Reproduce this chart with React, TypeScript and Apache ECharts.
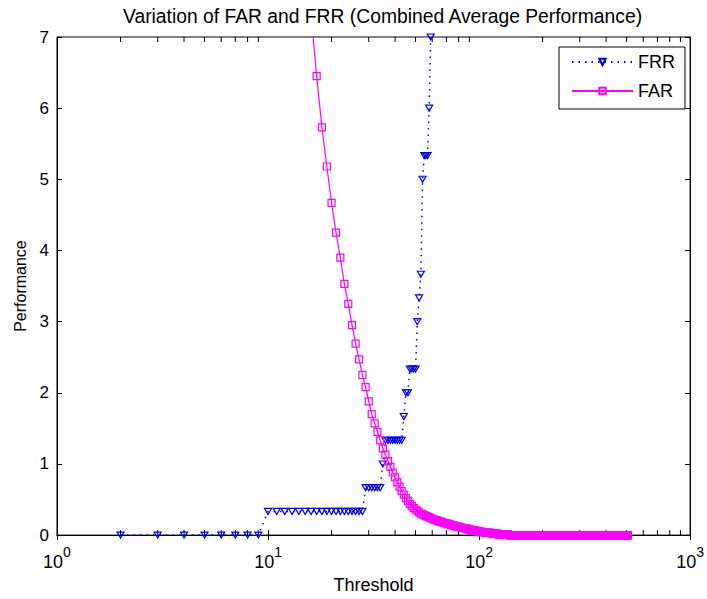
import React, { useEffect, useRef } from "react";
import * as echarts from "echarts";

const TITLE = "Variation of FAR and FRR (Combined Average Performance)";
const X_NAME = "Threshold";
const Y_NAME = "Performance";
const X_MIN = 1;
const X_MAX = 1000;
const Y_MIN = 0;
const Y_MAX = 7;
const Y_INTERVAL = 1;
const X_MINOR_TICKS = [2, 3, 4, 5, 6, 7, 8, 9, 20, 30, 40, 50, 60, 70, 80, 90, 200, 300, 400, 500, 600, 700, 800, 900];

// FRR: one value per integer threshold, starting at FRR_START
const FRR_START = 2;
const FRR_VALUES = [
  0, 0, 0, 0, 0, 0, 0, 0,
  0.3333, 0.3333, 0.3333, 0.3333, 0.3333, 0.3333, 0.3333, 0.3333, 0.3333, 0.3333,
  0.3333, 0.3333, 0.3333, 0.3333, 0.3333, 0.3333, 0.3333, 0.3333, 0.3333,
  0.6667, 0.6667, 0.6667, 0.6667, 0.6667, 0.6667,
  1.0,
  1.3333, 1.3333, 1.3333, 1.3333, 1.3333, 1.3333, 1.3333, 1.3333,
  1.6667,
  2.0, 2.0,
  2.3333, 2.3333, 2.3333, 2.3333,
  3.0, 3.3333, 3.6667, 5.0,
  5.3333, 5.3333, 5.3333,
  6.0, 7.0,
];

// FAR: one value per integer threshold, starting at FAR_START
const FAR_START = 16;
const FAR_VALUES = [
  7.3, 6.45, 5.73, 5.18, 4.67, 4.25, 3.9, 3.53, 3.25, 2.95,
  2.69, 2.47, 2.25, 2.08, 1.88, 1.7, 1.57, 1.45, 1.33, 1.22,
  1.13, 1.04, 0.96, 0.88, 0.81, 0.74, 0.68, 0.62, 0.57, 0.52,
  0.48, 0.44, 0.41, 0.38, 0.36, 0.34, 0.32, 0.3, 0.29, 0.28,
  0.27, 0.26, 0.25, 0.24, 0.23, 0.22, 0.21, 0.21, 0.2, 0.19,
  0.19, 0.18, 0.17, 0.17, 0.16, 0.16, 0.15, 0.15, 0.14, 0.14,
  0.13, 0.13, 0.12, 0.12, 0.12, 0.11, 0.11, 0.1, 0.1, 0.1,
  0.09, 0.09, 0.09, 0.08, 0.08, 0.08, 0.07, 0.07, 0.07, 0.06,
  0.06, 0.06, 0.06, 0.05, 0.05, 0.05, 0.05, 0.04, 0.04, 0.04,
  0.04, 0.04, 0.03, 0.03, 0.03, 0.03, 0.03, 0.03, 0.03, 0.02,
  0.02, 0.02, 0.02, 0.02, 0.02, 0.02, 0.02, 0.01, 0.01, 0.01,
  0.01, 0.01, 0.01, 0.01, 0.01, 0.01, 0.01, 0.01, 0.01, 0.01, 0.01, 0.01,
  0, 0, 0, 0, 0, 0, 0, 0, 0, 0, 0, 0, 0, 0, 0, 0, 0, 0, 0, 0,
  0, 0, 0, 0, 0, 0, 0, 0, 0, 0, 0, 0, 0, 0, 0, 0, 0, 0, 0, 0,
  0, 0, 0, 0, 0, 0, 0, 0, 0, 0, 0, 0, 0, 0, 0, 0, 0, 0, 0, 0,
  0, 0, 0, 0, 0, 0, 0, 0, 0, 0, 0, 0, 0, 0, 0, 0, 0, 0, 0, 0,
  0, 0, 0, 0, 0, 0, 0, 0, 0, 0, 0, 0, 0, 0, 0, 0, 0, 0, 0, 0,
  0, 0, 0, 0, 0, 0, 0, 0, 0, 0, 0, 0, 0, 0, 0, 0, 0, 0, 0, 0,
  0, 0, 0, 0, 0, 0, 0, 0, 0, 0, 0, 0, 0, 0, 0, 0, 0, 0, 0, 0,
  0, 0, 0, 0, 0, 0, 0, 0, 0, 0, 0, 0, 0, 0, 0, 0, 0, 0, 0, 0,
  0, 0, 0, 0, 0, 0, 0, 0, 0, 0, 0, 0, 0, 0, 0, 0, 0, 0, 0, 0,
  0, 0, 0, 0, 0, 0, 0, 0, 0, 0, 0, 0, 0, 0, 0, 0, 0, 0, 0, 0,
  0, 0, 0, 0, 0, 0, 0, 0, 0, 0, 0, 0, 0, 0, 0, 0, 0, 0, 0, 0,
  0, 0, 0, 0, 0, 0, 0, 0, 0, 0, 0, 0, 0, 0, 0, 0, 0, 0, 0, 0,
  0, 0, 0, 0, 0, 0, 0, 0, 0, 0, 0, 0, 0, 0, 0, 0, 0, 0, 0, 0,
  0, 0, 0, 0, 0, 0, 0, 0, 0, 0, 0, 0, 0, 0, 0, 0, 0, 0, 0, 0,
  0, 0, 0, 0, 0, 0, 0, 0, 0, 0, 0, 0, 0, 0, 0, 0, 0, 0, 0, 0,
  0, 0, 0, 0, 0, 0, 0, 0, 0, 0, 0, 0, 0, 0, 0, 0, 0, 0, 0, 0,
  0, 0, 0, 0, 0, 0, 0, 0, 0, 0, 0, 0, 0, 0, 0, 0, 0, 0, 0, 0,
  0, 0, 0, 0, 0, 0, 0, 0, 0, 0, 0, 0, 0, 0, 0, 0, 0, 0, 0, 0,
  0, 0, 0, 0, 0, 0, 0, 0, 0, 0,
];

const FONT = "Liberation Sans, Arial, Helvetica, sans-serif";
const BLUE = "#0000ff";
const MAGENTA = "#ff00ff";

export default function App() {
  const ref = useRef<HTMLDivElement>(null);

  useEffect(() => {
    document.body.style.margin = "0";
    if (!ref.current) return;
    const chart = echarts.init(ref.current, undefined, { renderer: "svg" });

    const frrData = FRR_VALUES.map((v, i) => [FRR_START + i, v]);
    const farData = FAR_VALUES.map((v, i) => [FAR_START + i, v]);

    const axisLineStyle = { color: "#000", width: 1 };
    const xLabelFormatter = (val: number) => {
      const e = Math.round(Math.log10(val));
      return `{base|10}{sup|${e}}`;
    };

    const option: any = {
      animation: false,
      backgroundColor: "#fff",
      title: {
        text: TITLE,
        left: 118,
        top: 2,
        textStyle: { fontFamily: FONT, fontSize: 19.3, fontWeight: "normal", color: "#000" },
      },
      grid: {
        left: 57,
        right: 14,
        top: 37,
        bottom: 62,
        show: true,
        borderColor: "#000",
        borderWidth: 1,
        backgroundColor: "#fff",
      },
      legend: {
        data: ["FRR", "FAR"],
        orient: "vertical",
        right: 22,
        top: 47,
        backgroundColor: "#fff",
        borderColor: "#000",
        borderWidth: 1,
        borderRadius: 0,
        padding: [6, 10, 9, 12],
        itemWidth: 61,
        itemHeight: 8,
        itemGap: 11,
        textStyle: { fontFamily: FONT, fontSize: 18, color: "#000" },
      },
      xAxis: [
        {
          type: "log",
          logBase: 10,
          min: X_MIN,
          max: X_MAX,
          position: "bottom",
          name: X_NAME,
          nameLocation: "middle",
          nameGap: 36,
          nameTextStyle: { fontFamily: FONT, fontSize: 18, color: "#000" },
          axisLine: { show: true, lineStyle: axisLineStyle },
          axisTick: { show: true, inside: true, length: 5, lineStyle: axisLineStyle },
          splitLine: { show: false },
          minorTick: { show: false },
          axisLabel: {
            margin: 10,
            formatter: xLabelFormatter,
            rich: {
              base: { fontFamily: FONT, fontSize: 18, color: "#000", lineHeight: 26, verticalAlign: "bottom" },
              sup: { fontFamily: FONT, fontSize: 14, color: "#000", lineHeight: 14, verticalAlign: "top" },
            },
          },
        },
        {
          type: "log",
          logBase: 10,
          min: X_MIN,
          max: X_MAX,
          position: "top",
          axisLine: { show: true, lineStyle: axisLineStyle },
          axisTick: { show: true, inside: true, length: 5, lineStyle: axisLineStyle },
          splitLine: { show: false },
          axisLabel: { show: false },
        },
      ],
      yAxis: [
        {
          type: "value",
          min: Y_MIN,
          max: Y_MAX,
          interval: Y_INTERVAL,
          position: "left",
          name: Y_NAME,
          nameLocation: "middle",
          nameGap: 28,
          nameTextStyle: { fontFamily: FONT, fontSize: 16, color: "#000" },
          axisLine: { show: true, lineStyle: axisLineStyle },
          axisTick: { show: true, inside: true, length: 5, lineStyle: axisLineStyle },
          splitLine: { show: false },
          axisLabel: { margin: 8, fontFamily: FONT, fontSize: 17, color: "#000" },
        },
        {
          type: "value",
          min: Y_MIN,
          max: Y_MAX,
          interval: Y_INTERVAL,
          position: "right",
          axisLine: { show: true, lineStyle: axisLineStyle },
          axisTick: { show: true, inside: true, length: 5, lineStyle: axisLineStyle },
          splitLine: { show: false },
          axisLabel: { show: false },
        },
      ],
      series: [
        {
          name: "minorTicks",
          type: "custom",
          xAxisIndex: 0,
          yAxisIndex: 0,
          silent: true,
          data: X_MINOR_TICKS.map((v) => [v, Y_MIN]),
          renderItem: (params: any, api: any) => {
            const v = api.value(0);
            const b = api.coord([v, Y_MIN]);
            const t = api.coord([v, Y_MAX]);
            const style = { stroke: "#000", lineWidth: 1 };
            return {
              type: "group",
              children: [
                { type: "line", shape: { x1: b[0], y1: b[1], x2: b[0], y2: b[1] - 5 }, style },
                { type: "line", shape: { x1: t[0], y1: t[1], x2: t[0], y2: t[1] + 5 }, style },
              ],
            };
          },
        },
        {
          name: "FRR",
          type: "line",
          xAxisIndex: 0,
          yAxisIndex: 0,
          data: frrData,
          clip: true,
          showAllSymbol: true,
          symbol: "triangle",
          symbolRotate: 180,
          symbolSize: [7, 6],
          lineStyle: { color: BLUE, width: 1.5, type: [1.5, 5] },
          itemStyle: { color: "transparent", borderColor: BLUE, borderWidth: 1.2 },
          emphasis: { disabled: true },
          z: 3,
        },
        {
          name: "FAR",
          type: "line",
          xAxisIndex: 0,
          yAxisIndex: 0,
          data: farData,
          clip: true,
          showAllSymbol: true,
          symbol: "rect",
          symbolSize: 7,
          lineStyle: { color: MAGENTA, width: 1.2, type: "solid" },
          itemStyle: { color: "transparent", borderColor: MAGENTA, borderWidth: 1.2 },
          emphasis: { disabled: true },
          z: 4,
        },
      ],
    };

    chart.setOption(option);
    return () => chart.dispose();
  }, []);

  return <div ref={ref} style={{ width: 707, height: 599 }} />;
}
